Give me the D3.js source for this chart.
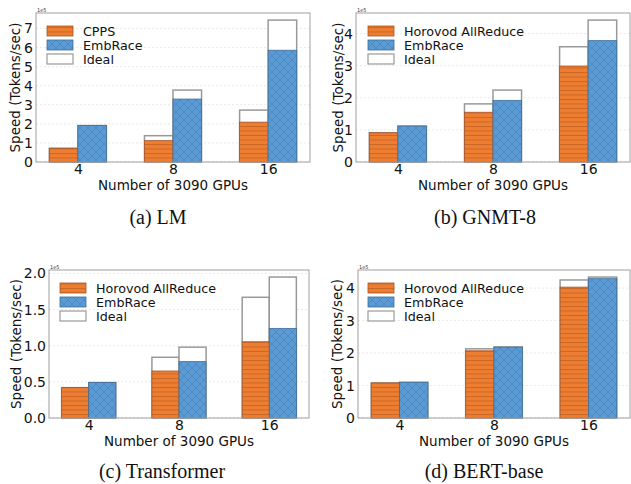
<!DOCTYPE html>
<html><head><meta charset="utf-8">
<script src="https://cdn.jsdelivr.net/npm/d3@7"></script>
<style>
body{margin:0;background:#fff;}
svg{display:block;}
</style></head>
<body>
<svg id="fig" width="631" height="484"></svg>
<script>
// ---- data (values in units of 1e5 tokens/sec) ----
const gpus = ["4", "8", "16"];

const lmCPPS        = [0.72, 1.12, 2.09];
const lmEmbRace     = [1.91, 3.30, 5.86];
const lmIdealCPPS   = [0.72, 1.38, 2.72];
const lmIdealEmb    = [1.91, 3.77, 7.44];
const lmTicks       = [0, 1, 2, 3, 4, 5, 6, 7];

const gnmtHorovod   = [0.91, 1.55, 2.99];
const gnmtEmbRace   = [1.12, 1.92, 3.78];
const gnmtIdealHor  = [0.91, 1.81, 3.59];
const gnmtIdealEmb  = [1.12, 2.24, 4.42];
const gnmtTicks     = [0, 1, 2, 3, 4];

const trHorovod     = [0.42, 0.65, 1.055];
const trEmbRace     = [0.49, 0.78, 1.24];
const trIdealHor    = [0.42, 0.84, 1.67];
const trIdealEmb    = [0.49, 0.98, 1.95];
const trTicks       = [0, 0.5, 1.0, 1.5, 2.0];

const bertHorovod   = [1.08, 2.07, 4.03];
const bertEmbRace   = [1.10, 2.18, 4.29];
const bertIdealHor  = [1.08, 2.13, 4.25];
const bertIdealEmb  = [1.10, 2.19, 4.34];
const bertTicks     = [0, 1, 2, 3, 4];

const captions = ["(a) LM", "(b) GNMT-8", "(c) Transformer", "(d) BERT-base"];
const xLabel = "Number of 3090 GPUs";
const yLabel = "Speed (Tokens/sec)";

// ---- styling ----
const ORANGE = "#ed7d31", ORANGE_EDGE = "#a5552a", ORANGE_HATCH = "#c4611f";
const BLUE = "#5b9bd5", BLUE_EDGE = "#3d6e99", BLUE_HATCH = "#4a82b8";

const svg = d3.select("#fig");
const defs = svg.append("defs");
const ph = defs.append("pattern").attr("id","hatchH").attr("patternUnits","userSpaceOnUse")
  .attr("width",6).attr("height",4.5);
ph.append("rect").attr("width",6).attr("height",4.5).attr("fill",ORANGE);
ph.append("line").attr("x1",0).attr("x2",6).attr("y1",0.5).attr("y2",0.5)
  .attr("stroke",ORANGE_HATCH).attr("stroke-width",0.8);
const px = defs.append("pattern").attr("id","hatchX").attr("patternUnits","userSpaceOnUse")
  .attr("width",8).attr("height",8);
px.append("rect").attr("width",8).attr("height",8).attr("fill",BLUE);
px.append("path").attr("d","M0,0 L8,8 M8,0 L0,8 M-2,6 L2,10 M6,-2 L10,2 M-2,2 L2,-2 M6,10 L10,6")
  .attr("stroke",BLUE_HATCH).attr("stroke-width",0.7).attr("fill","none");

const panels = [
  {left:36, right:310, top:13, bottom:162, ticks:lmTicks, fmt:d3.format("d"),
   a:lmCPPS, b:lmEmbRace, ia:lmIdealCPPS, ib:lmIdealEmb, names:["CPPS","EmbRace","Ideal"],
   ylx:15, cap:captions[0], capx:158, capy:224, legx:47, legy:31},
  {left:356, right:630, top:13, bottom:162, ticks:gnmtTicks, fmt:d3.format("d"),
   a:gnmtHorovod, b:gnmtEmbRace, ia:gnmtIdealHor, ib:gnmtIdealEmb, names:["Horovod AllReduce","EmbRace","Ideal"],
   ylx:338, cap:captions[1], capx:485, capy:224, legx:368, legy:31},
  {left:49, right:309, top:270, bottom:418, ticks:trTicks, fmt:d3.format(".1f"),
   a:trHorovod, b:trEmbRace, ia:trIdealHor, ib:trIdealEmb, names:["Horovod AllReduce","EmbRace","Ideal"],
   ylx:16, cap:captions[2], capx:162, capy:478, legx:60, legy:288},
  {left:358, right:630, top:270, bottom:418, ticks:bertTicks, fmt:d3.format("d"),
   a:bertHorovod, b:bertEmbRace, ia:bertIdealHor, ib:bertIdealEmb, names:["Horovod AllReduce","EmbRace","Ideal"],
   ylx:337, cap:captions[3], capx:484, capy:478, legx:368, legy:288}
];

const FONT = "'DejaVu Sans', sans-serif";

panels.forEach(p => {
  const g = svg.append("g");
  const ymax = d3.max(p.ia.concat(p.ib, p.a, p.b)) * 1.05;
  const x = d3.scaleLinear().domain([-0.44, 2.44]).range([p.left, p.right]);
  const y = d3.scaleLinear().domain([0, ymax]).range([p.bottom, p.top]);
  const bw = 0.3;

  g.append("g").selectAll("line").data(p.ticks).join("line")
    .attr("x1", p.left).attr("x2", p.right)
    .attr("y1", d => y(d)).attr("y2", d => y(d))
    .attr("stroke", "#e3e3e3").attr("stroke-width", 0.8).attr("stroke-dasharray", "2,2");

  const idx = gpus.map((_, i) => i);
  [[p.ia, -bw], [p.ib, 0]].forEach(([vals, off]) => {
    g.append("g").selectAll("rect").data(idx).join("rect")
      .attr("x", i => x(i + off)).attr("width", x(bw) - x(0))
      .attr("y", i => y(vals[i])).attr("height", i => y(0) - y(vals[i]))
      .attr("fill", "#fff").attr("stroke", "#999").attr("stroke-width", 1.5);
  });
  [[p.a, -bw, "url(#hatchH)", ORANGE_EDGE], [p.b, 0, "url(#hatchX)", BLUE_EDGE]].forEach(([vals, off, fill, edge]) => {
    g.append("g").selectAll("rect").data(idx).join("rect")
      .attr("x", i => x(i + off)).attr("width", x(bw) - x(0))
      .attr("y", i => y(vals[i])).attr("height", i => y(0) - y(vals[i]))
      .attr("fill", fill).attr("stroke", edge).attr("stroke-width", 0.8);
  });

  g.append("rect").attr("x", p.left).attr("y", p.top)
    .attr("width", p.right - p.left).attr("height", p.bottom - p.top)
    .attr("fill", "none").attr("stroke", "#a0a0a0").attr("stroke-width", 1);

  const ax = g.append("g").attr("transform", `translate(0,${p.bottom})`)
    .call(d3.axisBottom(x).tickValues(idx).tickFormat(i => gpus[i]).tickSize(0).tickPadding(2));
  ax.select(".domain").remove();
  ax.selectAll("text").attr("font-family", FONT).attr("font-size", 14).attr("fill", "#111");

  const ay = g.append("g").attr("transform", `translate(${p.left},0)`)
    .call(d3.axisLeft(y).tickValues(p.ticks).tickFormat(p.fmt).tickSize(0).tickPadding(3));
  ay.select(".domain").remove();
  ay.selectAll("text").attr("font-family", FONT).attr("font-size", 14).attr("fill", "#111");

  g.append("text").attr("x", p.left + 1).attr("y", p.top - 1)
    .attr("font-family", FONT).attr("font-size", 5).attr("fill", "#333").text("1e5");

  g.append("text").attr("x", (p.left + p.right) / 2).attr("y", p.bottom + 28)
    .attr("text-anchor", "middle").attr("font-family", FONT).attr("font-size", 13.5).attr("fill", "#111")
    .text(xLabel);
  g.append("text").attr("transform", `translate(${p.ylx},${(p.top + p.bottom) / 2}) rotate(-90)`)
    .attr("text-anchor", "middle").attr("dominant-baseline", "central")
    .attr("font-family", FONT).attr("font-size", 13.5).attr("fill", "#111").text(yLabel);

  const fills = ["url(#hatchH)", "url(#hatchX)", "#fff"];
  const edges = [ORANGE_EDGE, BLUE_EDGE, "#999"];
  p.names.forEach((nm, k) => {
    const cy = p.legy + k * 14;
    g.append("rect").attr("x", p.legx).attr("y", cy - 5).attr("width", 26).attr("height", 10)
      .attr("fill", fills[k]).attr("stroke", edges[k]).attr("stroke-width", k === 2 ? 1.2 : 0.8);
    g.append("text").attr("x", p.legx + 36).attr("y", cy).attr("dominant-baseline", "central")
      .attr("font-family", FONT).attr("font-size", 12.7).attr("fill", "#111").text(nm);
  });

  svg.append("text").attr("x", p.capx).attr("y", p.capy).attr("text-anchor", "middle")
    .attr("font-family", "'Liberation Serif', 'DejaVu Serif', serif").attr("font-size", 20).attr("fill", "#111")
    .text(p.cap);
});
</script>
</body></html>
